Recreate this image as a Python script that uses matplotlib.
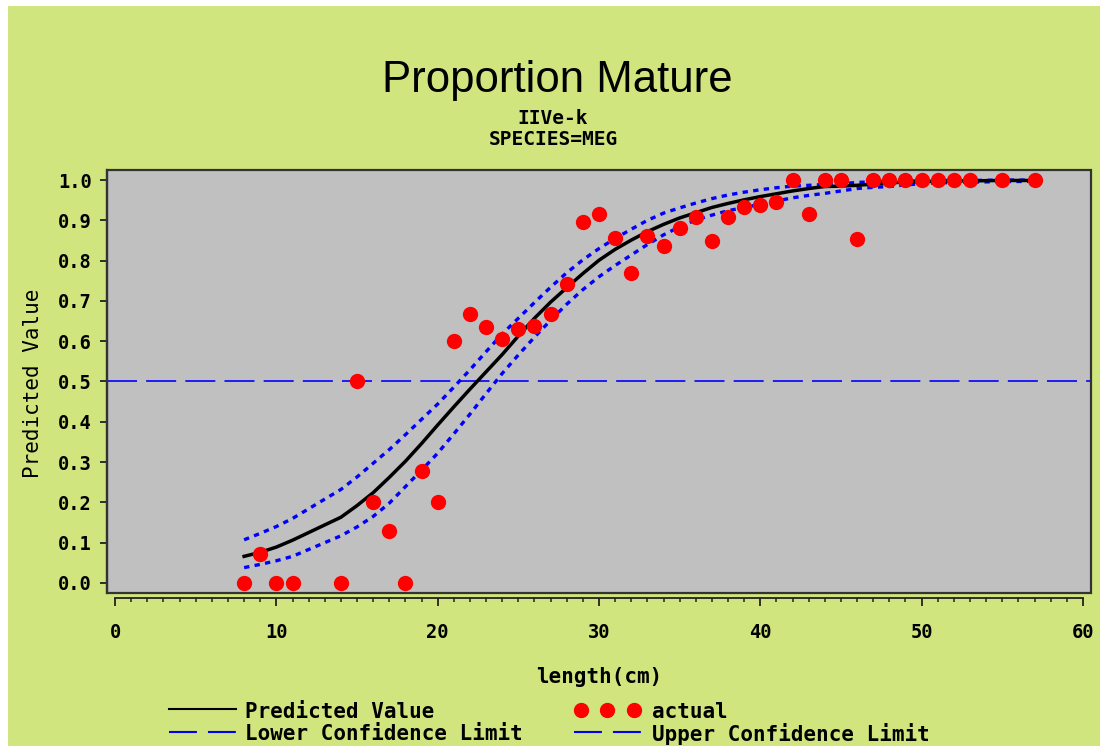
import numpy as np
import matplotlib
matplotlib.use('Agg')
import matplotlib.pyplot as plt
from matplotlib.lines import Line2D
from matplotlib.patches import Rectangle
from matplotlib.ticker import MultipleLocator, FormatStrFormatter

# lengths (cm) with observations
length = [8, 9, 10, 11] + list(range(14, 54)) + [55, 57]

# observed proportion mature
actual = [0, 0.071, 0, 0,
          0, 0.5, 0.2, 0.13, 0, 0.278, 0.2, 0.6, 0.667, 0.636,
          0.605, 0.63, 0.638, 0.667, 0.742, 0.897, 0.917, 0.857, 0.77, 0.861,
          0.836, 0.88, 0.909, 0.849, 0.909, 0.934, 0.938, 0.945, 1.0, 0.915,
          1.0, 1.0, 0.854, 1.0, 1.0, 1.0, 1.0, 1.0, 1.0, 1.0,
          1.0, 1.0]

# fitted values and confidence limits
predicted = [0.066, 0.076, 0.089, 0.106,
             0.163, 0.192, 0.224, 0.262, 0.302, 0.346, 0.392, 0.437, 0.481, 0.524,
             0.567, 0.613, 0.657, 0.697, 0.733, 0.768, 0.801, 0.828, 0.851, 0.872,
             0.890, 0.906, 0.919, 0.932, 0.942, 0.951, 0.959, 0.966, 0.973, 0.979,
             0.984, 0.985, 0.987, 0.990, 0.993, 0.995, 0.996, 0.997, 0.998, 0.998,
             0.999, 0.999]
lower = [0.038, 0.046, 0.055, 0.066,
         0.117, 0.139, 0.165, 0.198, 0.239, 0.280, 0.322, 0.370, 0.419, 0.470,
         0.520, 0.566, 0.610, 0.652, 0.692, 0.728, 0.760, 0.788, 0.814, 0.840,
         0.864, 0.884, 0.901, 0.913, 0.924, 0.932, 0.940, 0.948, 0.956, 0.962,
         0.967, 0.973, 0.979, 0.982, 0.984, 0.988, 0.991, 0.993, 0.994, 0.995,
         0.996, 0.997]
upper = [0.107, 0.123, 0.140, 0.160,
         0.232, 0.263, 0.297, 0.331, 0.368, 0.406, 0.444, 0.486, 0.529, 0.574,
         0.618, 0.657, 0.696, 0.734, 0.770, 0.802, 0.830, 0.855, 0.878, 0.900,
         0.918, 0.931, 0.943, 0.954, 0.963, 0.970, 0.976, 0.981, 0.985, 0.987,
         0.989, 0.991, 0.994, 0.996, 0.997, 0.998, 0.998, 0.999, 0.999, 0.999,
         1.000, 1.000]

W, H = 1105, 754
green = '#D0E57E'
grey = '#C0C0C0'
mono = 'DejaVu Sans Mono'

fig = plt.figure(figsize=(W / 100, H / 100), dpi=100, facecolor='white')
fig.patches.append(Rectangle((8 / W, 1 - 746 / H), (1100 - 8) / W, (746 - 6) / H,
                             transform=fig.transFigure, facecolor=green,
                             edgecolor='none', zorder=-10))

def fx(x):
    return x / W

def fy(y):
    return 1 - y / H

ax = fig.add_axes([fx(107), fy(593), (1091 - 107) / W, (593 - 170) / H])
ax.set_facecolor(grey)

ax.axhline(0.5, color='#0000FF', lw=1.2, dashes=(18, 5.5), zorder=1)
ax.plot(length, upper, color='#0000FF', lw=2.4, dashes=(1.6, 1.6), zorder=2)
ax.plot(length, lower, color='#0000FF', lw=2.4, dashes=(1.6, 1.6), zorder=2)
ax.plot(length, predicted, color='black', lw=2.5, zorder=3)
ax.plot(length, actual, 'o', color='#FF0000', ms=10, mec='#FF0000', zorder=4)

ax.set_xlim(-0.5, 60.5)
ax.set_ylim(-0.025, 1.025)

# frame around the plot area
ax.add_patch(Rectangle((0, 0), 1, 1, transform=ax.transAxes, fill=False,
                       edgecolor='#333333', lw=1.6, zorder=10, clip_on=False))
for s in ['top', 'right']:
    ax.spines[s].set_visible(False)
ax.spines['left'].set_color('#333333')
ax.spines['left'].set_linewidth(1.6)
ax.spines['bottom'].set_position(('outward', 3.6))
ax.spines['bottom'].set_bounds(0, 60)
ax.spines['bottom'].set_linewidth(1.3)
ax.spines['bottom'].set_color('#222222')

ax.xaxis.set_major_locator(MultipleLocator(10))
ax.xaxis.set_minor_locator(MultipleLocator(1))
ax.yaxis.set_major_locator(MultipleLocator(0.1))
ax.yaxis.set_major_formatter(FormatStrFormatter('%.1f'))
ax.tick_params(axis='x', which='major', direction='out', length=6, width=1.3,
               pad=12, color='#222222')
ax.tick_params(axis='x', which='minor', direction='out', length=3, width=1.1,
               color='#222222')
ax.tick_params(axis='y', direction='out', length=5, width=1.3, pad=6,
               color='#222222')
for lab in ax.get_xticklabels() + ax.get_yticklabels():
    lab.set_fontfamily(mono)
    lab.set_fontweight('bold')
    lab.set_fontsize(13.5)

ax.set_xlabel('length(cm)', fontfamily=mono, fontweight='bold', fontsize=15)
ax.xaxis.set_label_coords(0.5, -0.175)
ax.xaxis.label.set_va('top')

fig.text(fx(33), fy(383), 'Predicted Value', rotation=90, ha='center',
         va='center', fontfamily=mono, fontsize=15)

fig.text(fx(557), fy(92), 'Proportion Mature', ha='center', va='baseline',
         fontfamily='Liberation Sans', fontsize=31.5)
fig.text(fx(553), fy(124), 'IIVe-k', ha='center', va='baseline',
         fontfamily=mono, fontweight='bold', fontsize=14)
fig.text(fx(553), fy(145), 'SPECIES=MEG', ha='center', va='baseline',
         fontfamily=mono, fontweight='bold', fontsize=14)

# legend
row1, row2 = 712, 734
fig.add_artist(Line2D([fx(169), fx(236)], [fy(row1 - 3)] * 2, color='black',
                      lw=1.5, transform=fig.transFigure))
fig.add_artist(Line2D([fx(581), fx(607), fx(634)], [fy(row1 - 2)] * 3,
                      ls='none', marker='o', ms=10, color='#FF0000',
                      transform=fig.transFigure))
for x0 in (169, 574):
    fig.add_artist(Line2D([fx(x0), fx(x0 + 67)], [fy(row2 - 2)] * 2,
                          color='#0000FF', lw=1.5, dashes=(13.4, 5.3),
                          transform=fig.transFigure))
legend_texts = [(245, row1, 'Predicted Value'), (652, row1, 'actual'),
                (245, row2, 'Lower Confidence Limit'),
                (652, row2, 'Upper Confidence Limit')]
for x0, y0, t in legend_texts:
    fig.text(fx(x0), fy(y0), t, ha='left', va='center', fontfamily=mono,
             fontweight='bold', fontsize=15)

fig.savefig('out.png', dpi=100, facecolor=fig.get_facecolor())
